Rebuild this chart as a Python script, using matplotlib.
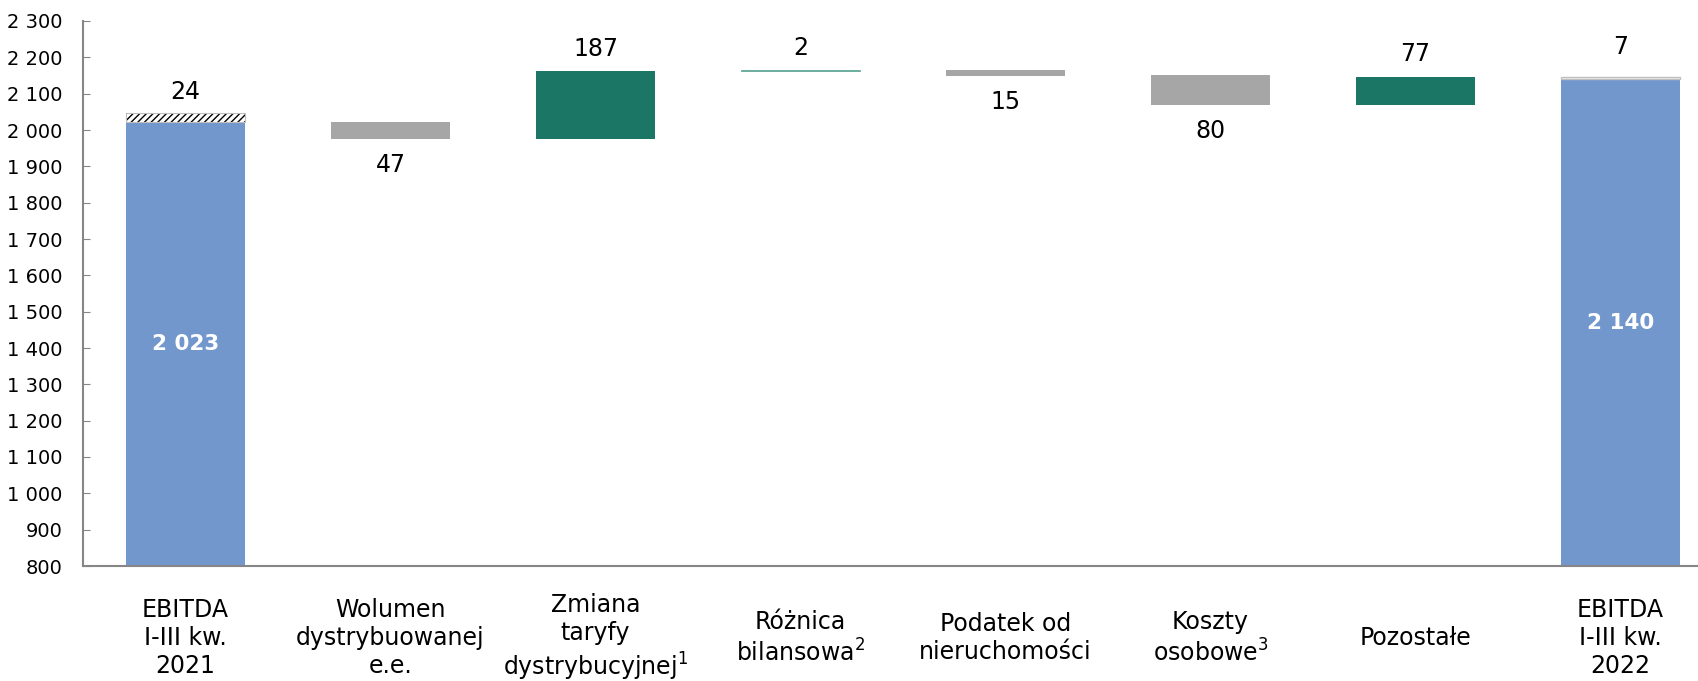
import numpy as np
import matplotlib.pyplot as plt

# category labels
categories = ['EBITDA\nI-III kw.\n2021',
              'Wolumen\ndystrybuowanej\ne.e.',
              'Zmiana\ntaryfy\ndystrybucyjnej$^{\\mathit{1}}$',
              'Różnica\nbilansowa$^{2}$',
              'Podatek od\nnieruchomości',
              'Koszty\nosobowe$^{\\mathit{3}}$',
              'Pozostałe',
              'EBITDA\nI-III kw.\n2022']

# values (mln zł)
start_value = 2023
start_extra = 24
changes = [-47, 187, 2, -15, -80, 77]
end_value = 2140
end_extra = 7

yticks = np.arange(800, 2301, 100)

blue = '#7297CD'
green = '#1B7665'
grey = '#A6A6A6'

plt.rcParams['mathtext.fontset'] = 'custom'
plt.rcParams['mathtext.rm'] = 'DejaVu Sans'
plt.rcParams['mathtext.it'] = 'DejaVu Sans:italic'

fig = plt.figure(figsize=(16.98, 6.81), dpi=100)
ax = fig.add_axes([83 / 1698, 115 / 681, 1640 / 1698, 545 / 681])

w = 0.585
x = np.arange(len(categories))

# first total bar + hatched one-off
ax.bar(x[0], start_value - 800, bottom=800, width=w, color=blue)
ax.bar(x[0], start_extra, bottom=start_value, width=w, color='white',
       edgecolor='black', hatch='/////', linewidth=0)
ax.bar(x[0], start_extra, bottom=start_value, width=w, color='none',
       edgecolor='#BFBFBF', linewidth=0.8)

# floating changes
level = start_value
for i, d in enumerate(changes):
    xi = x[i + 1]
    if d >= 0:
        ax.bar(xi, d, bottom=level, width=w, color=green,
               edgecolor=green if d > 5 else '#6AAE9F', linewidth=0 if d > 5 else 0.6)
        lbl_y, off = level + d, 16
    else:
        ax.bar(xi, -d, bottom=level + d, width=w, color=grey, linewidth=0)
        lbl_y, off = level + d, -19
    ax.annotate(f'{abs(d)}', (xi, lbl_y), xytext=(0, off),
                textcoords='offset points', ha='center', va='center', fontsize=17)
    level += d

# final total bar + small extra
ax.bar(x[-1], end_value - 800, bottom=800, width=w, color=blue)
ax.bar(x[-1], end_extra, bottom=end_value, width=w, color='#F7F7F2',
       edgecolor='#BFBFBF', linewidth=1)

# labels on total bars
ax.annotate(f'{start_extra}', (x[0], start_value + start_extra), xytext=(0, 15),
            textcoords='offset points', ha='center', va='center', fontsize=17)
ax.annotate(f'{end_extra}', (x[-1], end_value + end_extra), xytext=(0, 21),
            textcoords='offset points', ha='center', va='center', fontsize=17)
for xi, v in [(x[0], start_value), (x[-1], end_value)]:
    ax.text(xi, (800 + v) / 2, f'{v:,}'.replace(',', ' '), ha='center', va='center',
            color='white', fontsize=15.5, fontweight='bold')

ax.set_xlim(-0.5, len(categories) - 0.5)
ax.set_ylim(800, 2300)
ax.set_yticks(yticks)
ax.set_yticklabels([f'{v:,}'.replace(',', ' ') for v in yticks], fontsize=14)
ax.set_xticks(x)
ax.set_xticklabels(categories, fontsize=17, linespacing=1.22)
for t in ax.get_xticklabels():
    t.set_verticalalignment('center')
    t.set_multialignment('center')

ax.tick_params(axis='x', length=0, pad=52)
ax.tick_params(axis='y', direction='in', length=5, color='#868686', pad=15)
for s in ['top', 'right']:
    ax.spines[s].set_visible(False)
for s in ['left', 'bottom']:
    ax.spines[s].set_color('#868686')
    ax.spines[s].set_linewidth(1.5)

fig.savefig('out.png', dpi=100)
